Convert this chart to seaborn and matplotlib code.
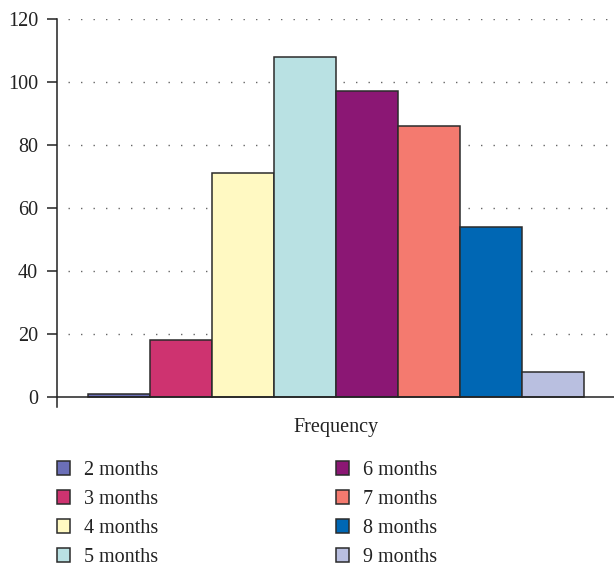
import matplotlib
matplotlib.use("Agg")
import matplotlib.pyplot as plt
import seaborn as sns
import pandas as pd

categories = ["2 months", "3 months", "4 months", "5 months",
              "6 months", "7 months", "8 months", "9 months"]
values = [1, 18, 71, 108, 97, 86, 54, 8]
colors = ["#6B6FB8", "#CE3370", "#FFF9C2", "#B9E1E3",
          "#8B1774", "#F47A6F", "#0067B4", "#B9BFE0"]
yticks = [0, 20, 40, 60, 80, 100, 120]

sns.set_theme(style="white")
plt.rcParams['font.family'] = ['Liberation Serif', 'DejaVu Serif']

df = pd.DataFrame({"group": categories, "value": values})

FS = 14.5
W, H = 614, 567
fig = plt.figure(figsize=(W / 100, H / 100), dpi=100)
ax = fig.add_axes([57 / W, 1 - 407 / H, (614 - 57) / W, (407 - 19) / H])

sns.barplot(data=df, x="group", y="value", hue="group", palette=colors,
            width=1.0, edgecolor="#2b2b2b", linewidth=1.1, dodge=False,
            saturation=1, ax=ax, legend=True, zorder=3)

ax.set_ylim(-3.2, 120)
ax.set_xlim(-1.0, 7.98)
ax.set_yticks(yticks)
ax.set_yticklabels([str(t) for t in yticks], fontsize=FS, color="#222222")
ax.set_xticks([])
ax.set_xlabel("Frequency", fontsize=FS, color="#222222", labelpad=8)
ax.set_ylabel("")

for s in ["top", "right", "bottom"]:
    ax.spines[s].set_visible(False)
ax.spines["left"].set_color("#222222")
ax.spines["left"].set_linewidth(1.1)
ax.tick_params(axis="y", direction="out", length=7.5, width=1.1,
               color="#222222", left=True, pad=6)

for t in yticks[1:]:
    ax.axhline(t, xmin=0.02, xmax=1, color="#666666", lw=1.0,
               linestyle=(0, (1, 8)), zorder=1)
ax.axhline(0, color="#222222", lw=1.1, zorder=4)

handles, labels = ax.get_legend_handles_labels()
ax.get_legend().remove()
fig.legend(handles, labels, loc="upper left",
           bbox_to_anchor=(57 / W, 1 - 461 / H), ncol=2, frameon=False,
           fontsize=FS, borderaxespad=0, borderpad=0,
           handlelength=0.65, handleheight=0.65, handletextpad=0.7,
           labelspacing=0.5, columnspacing=8.8, labelcolor="#222222")

fig.savefig("out.png", dpi=100)
